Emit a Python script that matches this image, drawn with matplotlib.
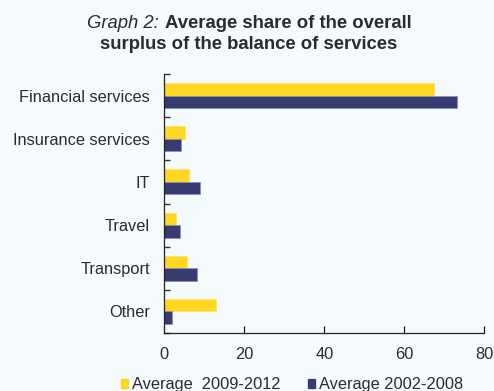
import matplotlib.pyplot as plt
import numpy as np
from matplotlib.patches import Patch

plt.rcParams['font.family'] = ['Liberation Sans', 'DejaVu Sans']

categories = ['Financial services', 'Insurance services', 'IT', 'Travel', 'Transport', 'Other']
avg_2009_2012 = [67.3, 5.2, 6.2, 2.8, 5.6, 12.9]
avg_2002_2008 = [73.1, 4.1, 8.8, 3.9, 8.1, 2.0]
x_ticks = [0, 20, 40, 60, 80]

bg = '#F5FAFD'
yellow = '#FFD621'
navy = '#363C70'
text_col = '#2B2B2B'
fs = 11.8

fig = plt.figure(figsize=(4.94, 3.91), dpi=100, facecolor=bg)
ax = fig.add_axes([164.3 / 494, 1 - 333 / 391, 320 / 494, 259 / 391], facecolor=bg)

pos = np.arange(len(categories))
h = 0.29
ax.barh(pos - h / 2, avg_2009_2012, height=h, color=yellow, edgecolor='#FFE466', linewidth=0.6)
ax.barh(pos + h / 2, avg_2002_2008, height=h, color=navy, edgecolor='#8A90B8', linewidth=0.6)

ax.set_ylim(len(categories) - 0.5, -0.5)
ax.set_xlim(0, 80)
ax.set_yticks(pos)
ax.set_yticklabels(categories)
ax.set_yticks(np.arange(-0.5, len(categories)), minor=True)
ax.set_xticks(x_ticks)
ax.tick_params(axis='y', which='major', length=0, pad=10.5, labelsize=fs, labelcolor=text_col)
ax.tick_params(axis='y', which='minor', direction='in', length=4, width=1, color='#333333')
ax.tick_params(axis='x', direction='in', length=5, width=0.8, pad=10, labelsize=fs, labelcolor=text_col)
for s in ['top', 'right']:
    ax.spines[s].set_visible(False)
for s in ['left', 'bottom']:
    ax.spines[s].set_color('#222222')
    ax.spines[s].set_linewidth(0.9)

# title: italic prefix followed by bold text
tfs = 13.3
fig.text(159 / 494, 1 - 28.5 / 391, 'Graph 2:', style='italic', fontsize=tfs,
         ha='right', va='baseline', color=text_col)
fig.text(165 / 494, 1 - 28.5 / 391, 'Average share of the overall', weight='bold', fontsize=tfs,
         ha='left', va='baseline', color=text_col)
fig.text(249 / 494, 1 - 49 / 391, 'surplus of the balance of services', weight='bold', fontsize=tfs,
         ha='center', va='baseline', color=text_col)

handles = [Patch(color=yellow), Patch(color=navy)]
fig.legend(handles, ['Average  2009-2012', 'Average 2002-2008'], loc='lower left',
           bbox_to_anchor=(120.7 / 494, -1.5 / 391), ncol=2, frameon=False, fontsize=fs,
           handlelength=0.46, handleheight=0.46, handletextpad=0.23, columnspacing=1.65,
           borderpad=0, borderaxespad=0, labelcolor=text_col)

fig.savefig('out.png', dpi=100, facecolor=bg)
